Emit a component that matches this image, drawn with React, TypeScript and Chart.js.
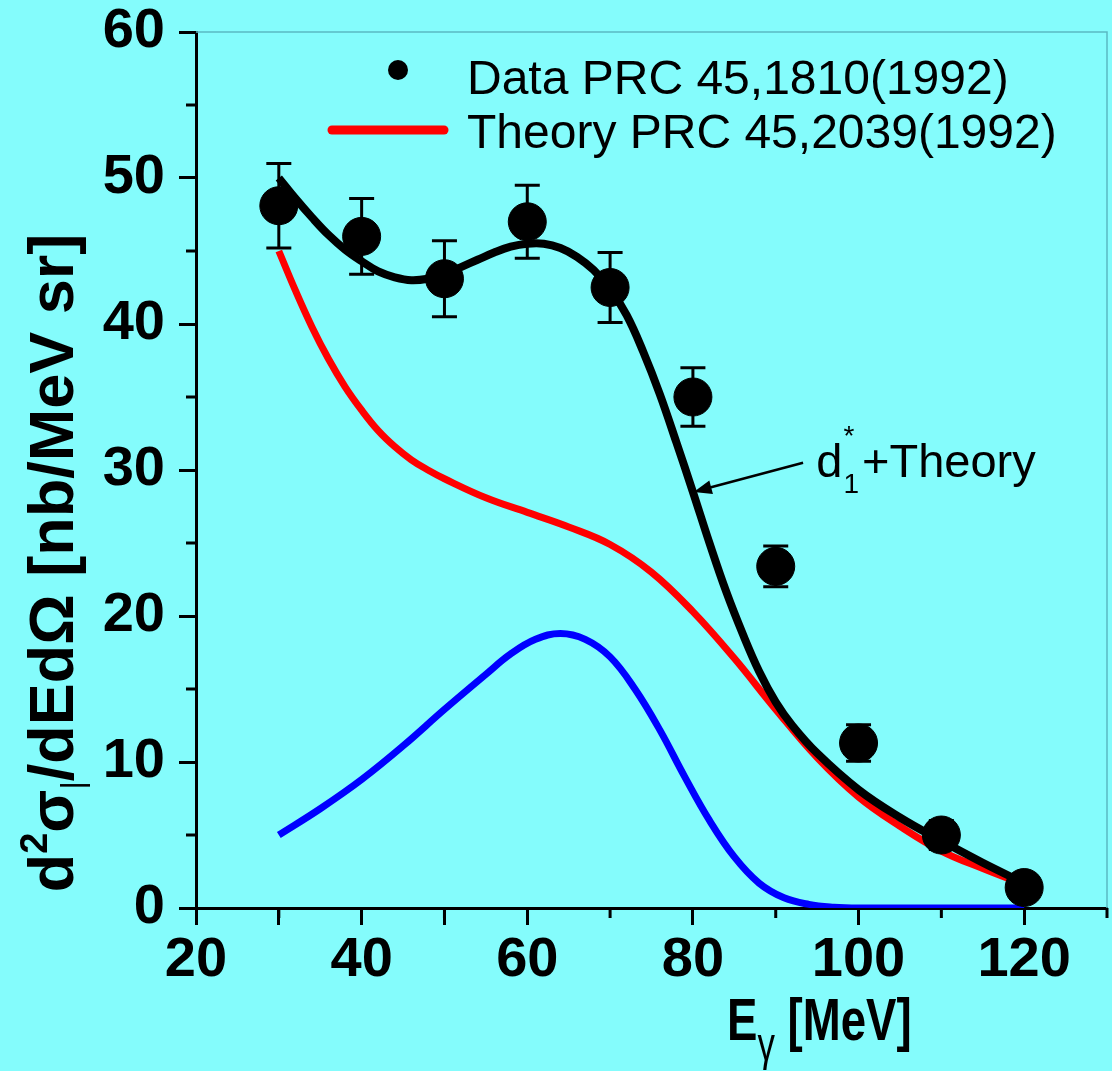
import React, { useEffect, useRef } from 'react';
import { Chart, registerables } from 'chart.js';

Chart.register(...registerables);

// ---------- data ----------
const dataEnergies = [30, 40, 50, 60, 70, 80, 90, 100, 110, 120];
const dataValues = [48.1, 46.0, 43.1, 47.0, 42.5, 35.0, 23.4, 11.3, 5.0, 1.4];
const dataErrors = [2.9, 2.6, 2.6, 2.5, 2.4, 2.0, 1.4, 1.25, 1.0, 0.5];

const sumX = [30, 32, 34, 36, 38, 40, 42, 44, 46, 48, 50, 52, 54, 56, 58, 60, 62, 64, 66, 68, 70, 72, 74, 76, 78, 80, 82, 84, 86, 88, 90, 92, 95, 100, 105, 110, 115, 120];
const sumY = [50.0, 48.6, 47.3, 46.1, 45.1, 44.3, 43.6, 43.2, 43.0, 43.1, 43.4, 43.9, 44.4, 44.9, 45.3, 45.5, 45.5, 45.2, 44.6, 43.7, 42.4, 40.6, 38.1, 35.2, 31.9, 28.5, 25.0, 21.7, 18.8, 16.2, 14.1, 12.5, 10.6, 8.1, 6.2, 4.6, 3.1, 1.7];

const theoryX = [30, 32, 34, 36, 38, 40, 42, 44, 46, 48, 50, 55, 60, 65, 70, 75, 80, 85, 90, 95, 100, 105, 110, 115, 120];
const theoryY = [45.0, 42.3, 39.8, 37.6, 35.7, 34.1, 32.7, 31.6, 30.7, 30.0, 29.4, 28.1, 27.1, 26.1, 24.9, 23.0, 20.3, 17.1, 13.6, 10.3, 7.6, 5.6, 3.9, 2.7, 1.6];

const d1X = [30, 35, 40, 45, 50, 55, 58, 61, 64, 67, 70, 73, 76, 79, 82, 85, 88, 91, 94, 97, 100, 110, 120];
const d1Y = [5.0, 6.8, 8.8, 11.1, 13.6, 16.0, 17.4, 18.4, 18.8, 18.4, 17.2, 15.0, 12.2, 9.0, 6.0, 3.5, 1.7, 0.7, 0.25, 0.06, 0, 0, 0];

const xRange = [20, 130];
const yRange = [0, 60];
const xMajorTicks = [20, 40, 60, 80, 100, 120];
const xMinorTicks = [30, 50, 70, 90, 110, 130];
const yMajorTicks = [0, 10, 20, 30, 40, 50, 60];
const yMinorTicks = [5, 15, 25, 35, 45, 55];

const legendLabels = ['Data PRC 45,1810(1992)', 'Theory PRC 45,2039(1992)'];
const annotationLabel = { main: 'd', sup: '*', sub: '1', rest: '+Theory' };
const arrowTail = [93.3, 30.5];
const arrowTip = [80.1, 28.5];
const annotationAnchor = [94.9, 29.5];

const BG = '#84fcfc';
const SANS = "'Liberation Sans', Arial, Helvetica, sans-serif";

type Seg = { t: string; size: number; bold?: boolean; dy?: number };

function segFont(s: Seg) {
  return `${s.bold ? 'bold ' : ''}${s.size}px ${SANS}`;
}

function drawRich(ctx: CanvasRenderingContext2D, segs: Seg[], x: number, y: number, rot: number, sx: number, align: 'left' | 'center') {
  ctx.save();
  ctx.translate(x, y);
  ctx.rotate(rot);
  ctx.scale(sx, 1);
  let total = 0;
  const widths = segs.map((s) => {
    ctx.font = segFont(s);
    const w = ctx.measureText(s.t).width;
    total += w;
    return w;
  });
  let cx = align === 'center' ? -total / 2 : 0;
  ctx.fillStyle = '#000';
  ctx.textBaseline = 'alphabetic';
  ctx.textAlign = 'left';
  segs.forEach((s, i) => {
    ctx.font = segFont(s);
    ctx.fillText(s.t, cx, s.dy || 0);
    cx += widths[i];
  });
  ctx.restore();
}

const decorPlugin = {
  id: 'decor',
  beforeDraw(chart: any) {
    const { ctx, width, height } = chart;
    ctx.save();
    ctx.fillStyle = BG;
    ctx.fillRect(0, 0, width, height);
    ctx.restore();
  },
  afterDatasetDraw(chart: any, args: any) {
    if (args.index !== 1) return;
    const { ctx, scales } = chart;
    const x = scales.x, y = scales.y;
    ctx.save();
    ctx.strokeStyle = '#000';
    ctx.lineWidth = 3;
    dataEnergies.forEach((e, i) => {
      const px = x.getPixelForValue(e);
      const pt = y.getPixelForValue(dataValues[i] + dataErrors[i]);
      const pb = y.getPixelForValue(dataValues[i] - dataErrors[i]);
      ctx.beginPath();
      ctx.moveTo(px, pt);
      ctx.lineTo(px, pb);
      ctx.moveTo(px - 12.5, pt);
      ctx.lineTo(px + 12.5, pt);
      ctx.moveTo(px - 12.5, pb);
      ctx.lineTo(px + 12.5, pb);
      ctx.stroke();
    });
    ctx.restore();
  },
  afterDraw(chart: any) {
    const { ctx, chartArea, scales } = chart;
    const { left, right, top, bottom } = chartArea;
    const x = scales.x, y = scales.y;
    ctx.save();
    // faint frame top/right
    ctx.strokeStyle = '#5ab9c2';
    ctx.lineWidth = 1.5;
    ctx.beginPath();
    ctx.moveTo(left, top);
    ctx.lineTo(right, top);
    ctx.lineTo(right, bottom);
    ctx.stroke();
    // minor ticks
    ctx.strokeStyle = '#000';
    ctx.lineWidth = 3;
    ctx.beginPath();
    xMinorTicks.forEach((v) => {
      const px = x.getPixelForValue(v);
      ctx.moveTo(px, bottom);
      ctx.lineTo(px, bottom + 10);
    });
    yMinorTicks.forEach((v) => {
      const py = y.getPixelForValue(v);
      ctx.moveTo(left, py);
      ctx.lineTo(left - 10, py);
    });
    ctx.stroke();

    // legend
    ctx.fillStyle = '#000';
    ctx.beginPath();
    ctx.arc(398, 70, 10, 0, Math.PI * 2);
    ctx.fill();
    ctx.strokeStyle = '#ff0000';
    ctx.lineWidth = 9;
    ctx.lineCap = 'round';
    ctx.beginPath();
    ctx.moveTo(332, 130);
    ctx.lineTo(444, 130);
    ctx.stroke();
    ctx.lineCap = 'butt';
    ctx.font = `48px ${SANS}`;
    ctx.textBaseline = 'alphabetic';
    ctx.textAlign = 'left';
    ctx.fillText(legendLabels[0], 467, 94);
    ctx.fillText(legendLabels[1], 467, 148);

    // annotation arrow
    const tx = x.getPixelForValue(arrowTail[0]);
    const ty = y.getPixelForValue(arrowTail[1]);
    const hx = x.getPixelForValue(arrowTip[0]);
    const hy = y.getPixelForValue(arrowTip[1]);
    const ang = Math.atan2(hy - ty, hx - tx);
    ctx.strokeStyle = '#000';
    ctx.lineWidth = 2.5;
    ctx.beginPath();
    ctx.moveTo(tx, ty);
    ctx.lineTo(hx - 14 * Math.cos(ang), hy - 14 * Math.sin(ang));
    ctx.stroke();
    ctx.beginPath();
    ctx.moveTo(hx, hy);
    ctx.lineTo(hx - 18 * Math.cos(ang) + 7 * Math.sin(ang), hy - 18 * Math.sin(ang) - 7 * Math.cos(ang));
    ctx.lineTo(hx - 18 * Math.cos(ang) - 7 * Math.sin(ang), hy - 18 * Math.sin(ang) + 7 * Math.cos(ang));
    ctx.closePath();
    ctx.fill();
    const ax = x.getPixelForValue(annotationAnchor[0]);
    const ay = y.getPixelForValue(annotationAnchor[1]);
    ctx.font = `47px ${SANS}`;
    const wd = ctx.measureText(annotationLabel.main).width;
    ctx.fillText(annotationLabel.main, ax, ay);
    ctx.font = `28px ${SANS}`;
    ctx.fillText(annotationLabel.sup, ax + wd + 1, ay - 32);
    ctx.fillText(annotationLabel.sub, ax + wd + 1, ay + 16);
    const ws = ctx.measureText(annotationLabel.sub).width;
    ctx.font = `47px ${SANS}`;
    ctx.fillText(annotationLabel.rest, ax + wd + ws + 4, ay);
    ctx.restore();

    // axis titles
    drawRich(ctx, [
      { t: 'E', size: 60, bold: true },
      { t: 'γ', size: 46, bold: false, dy: 20 },
      { t: ' [MeV]', size: 60, bold: true },
    ], 727, 1040, 0, 0.76, 'left');

    drawRich(ctx, [
      { t: 'd', size: 63, bold: true },
      { t: '2', size: 38, bold: true, dy: -26 },
      { t: 'σ', size: 63, bold: true },
      { t: '|', size: 32, bold: false, dy: 10 },
      { t: '/dEdΩ [nb/MeV sr]', size: 63, bold: true },
    ], 73, 563, -Math.PI / 2, 1.0, 'center');
  },
};

export default function App() {
  const ref = useRef<HTMLCanvasElement>(null);
  useEffect(() => {
    document.body.style.margin = '0';
    const canvas = ref.current;
    if (!canvas) return;
    const tickColor = (c: any) => (c.tick && xMajorTicks.concat(yMajorTicks).includes(c.tick.value) ? '#000' : 'rgba(0,0,0,0)');
    const chart = new Chart(canvas, {
      type: 'scatter',
      data: {
        datasets: [
          {
            label: 'd1*+Theory',
            type: 'line',
            data: sumX.map((v, i) => ({ x: v, y: sumY[i] })),
            borderColor: '#000000',
            borderWidth: 8,
            pointRadius: 0,
            fill: false,
            tension: 0.4,
            order: 1,
          } as any,
          {
            label: legendLabels[0],
            data: dataEnergies.map((v, i) => ({ x: v, y: dataValues[i] })),
            backgroundColor: '#000000',
            borderColor: '#000000',
            pointRadius: 19,
            order: 2,
          },
          {
            label: legendLabels[1],
            type: 'line',
            data: theoryX.map((v, i) => ({ x: v, y: theoryY[i] })),
            borderColor: '#ff0000',
            borderWidth: 7,
            pointRadius: 0,
            fill: false,
            tension: 0.4,
            order: 3,
          } as any,
          {
            label: 'd1*',
            type: 'line',
            data: d1X.map((v, i) => ({ x: v, y: d1Y[i] })),
            borderColor: '#0000ff',
            borderWidth: 7,
            pointRadius: 0,
            fill: false,
            tension: 0.4,
            order: 4,
          } as any,
        ],
      },
      options: {
        responsive: false,
        animation: false,
        layout: { autoPadding: false, padding: { top: 32, right: 5, left: 0, bottom: 0 } },
        plugins: { legend: { display: false }, tooltip: { enabled: false } },
        scales: {
          x: {
            type: 'linear',
            min: xRange[0],
            max: xRange[1],
            border: { color: '#000', width: 3 },
            grid: { drawOnChartArea: false, drawTicks: true, tickLength: 17, tickWidth: 3, tickColor },
            ticks: {
              stepSize: 10,
              autoSkip: false,
              maxRotation: 0,
              padding: 8,
              color: '#000',
              font: { family: SANS, size: 56, weight: 'bold', lineHeight: 1 },
              callback: (v: any) => (xMajorTicks.includes(v) ? String(v) : ''),
            },
            afterFit: (s: any) => {
              s.height = 163;
              s.paddingLeft = 0;
              s.paddingRight = 0;
            },
          },
          y: {
            type: 'linear',
            min: yRange[0],
            max: yRange[1],
            border: { color: '#000', width: 3 },
            grid: { drawOnChartArea: false, drawTicks: true, tickLength: 17, tickWidth: 3, tickColor },
            ticks: {
              stepSize: 5,
              autoSkip: false,
              padding: 14,
              color: '#000',
              font: { family: SANS, size: 56, weight: 'bold', lineHeight: 1 },
              callback: (v: any) => (yMajorTicks.includes(v) ? String(v) : ''),
            },
            afterFit: (s: any) => {
              s.width = 196;
              s.paddingTop = 0;
              s.paddingBottom = 0;
            },
          },
        },
      } as any,
      plugins: [decorPlugin],
    });
    return () => chart.destroy();
  }, []);
  return <canvas ref={ref} width={1112} height={1071} style={{ display: 'block', width: 1112, height: 1071 }} />;
}
